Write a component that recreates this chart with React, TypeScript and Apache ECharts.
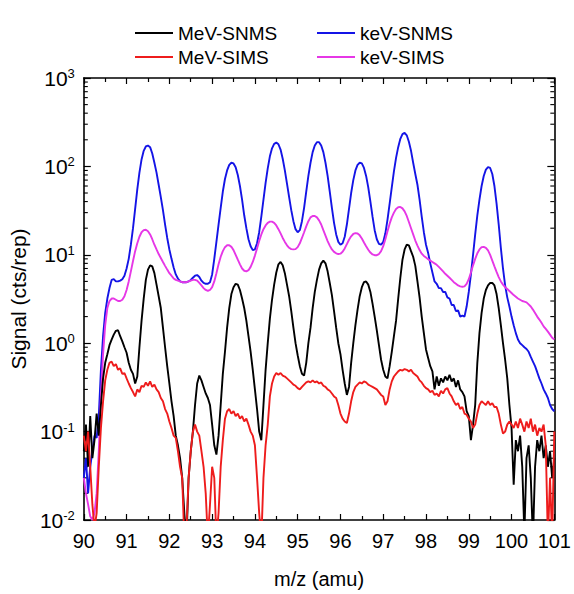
import React, { useEffect, useRef } from "react";
import * as echarts from "echarts";

// m/z sampling grid: 90.00 .. 101.00 every 0.05 amu (one row per amu below)
const MZ_START = 90;
const MZ_STEP = 0.05;

const keVSNMS = [
  0.03, 0.05, 0.02, 0.04, 0.06, 0.09, 0.085, 0.15, 0.5, 1.2, 2.2, 3.2, 4.2, 5.2, 5.3, 5.0, 5.0, 5.1, 5.3, 5.8,
  7, 9, 13, 20, 33, 55, 85, 120, 150, 168, 172, 165, 140, 110, 85, 62, 45, 32, 22, 15.5,
  11.5, 9, 7.2, 6, 5.4, 5.0, 4.9, 4.9, 4.9, 5.0, 5.2, 5.5, 5.8, 5.9, 5.6, 5.1, 4.8, 4.7, 4.7, 4.9,
  6, 9, 14, 22, 34, 52, 72, 90, 104, 110, 108, 98, 80, 60, 42, 28, 20, 15, 12.5, 11.3,
  11.5, 13.5, 18, 27, 42, 65, 95, 130, 160, 180, 186, 178, 155, 122, 90, 64, 45, 32, 24, 19.5,
  18, 19, 24, 34, 52, 78, 110, 145, 172, 188, 188, 172, 145, 110, 78, 52, 34, 23, 17, 14,
  13, 13.5, 16, 22, 33, 50, 70, 90, 104, 110, 108, 96, 78, 58, 40, 27, 19, 15, 13.3, 13,
  14, 17.5, 25, 38, 58, 88, 125, 165, 205, 232, 240, 225, 190, 150, 110, 82, 62, 42, 27, 18,
  13, 10.5, 8, 6.3, 5.0, 4.7, 4.2, 4.2, 3.8, 3.8, 3.3, 3.2, 2.7, 2.7, 2.3, 2.35, 2.0, 2.05, 2.0, 2.6,
  3.8, 6, 10, 17, 28, 42, 60, 78, 92, 98, 96, 82, 60, 38, 22, 12, 7, 4.5, 3.3, 2.6,
  2.0, 1.6, 1.3, 1.1, 1.0, 0.95, 0.9, 0.86, 0.8, 0.7, 0.62, 0.55, 0.47, 0.4, 0.35, 0.3, 0.27, 0.24, 0.2, 0.18,
  0.17,
];

const keVSIMS = [
  0.03, 0.02, 0.015, 0.011, 0.01, 0.012, 0.02, 0.06, 0.25, 0.75, 1.6, 2.5, 3.0, 3.2, 3.2, 3.1, 3.0, 3.0, 3.1, 3.4,
  4.0, 5.0, 6.5, 8.5, 11, 13.5, 16, 18, 19, 19.2, 18.5, 17, 15, 13, 11.5, 10.2, 9.2, 8.3, 7.5, 6.8,
  6.2, 5.8, 5.4, 5.2, 5.1, 5.0, 4.9, 4.9, 4.9, 5.0, 5.1, 5.2, 5.2, 5.1, 4.8, 4.5, 4.2, 4.0, 3.9, 4.0,
  4.3, 5.0, 6.2, 7.8, 9.5, 11, 12.2, 12.8, 12.8, 12.3, 11.3, 10, 8.8, 7.8, 7.0, 6.6, 6.5, 6.7, 7.3, 8.3,
  9.8, 11.8, 14.3, 17, 19.5, 21.5, 23, 23.7, 23.7, 23, 21.5, 19.5, 17.5, 15.5, 14, 12.8, 12, 11.6, 11.5, 11.6,
  12.2, 13.5, 15.5, 18, 21, 24, 26.5, 27.5, 27.5, 26.5, 24.5, 22, 19, 16.5, 14.3, 12.7, 11.5, 10.8, 10.4, 10.2,
  10.3, 10.8, 11.8, 13.2, 14.8, 16.2, 17.2, 17.6, 17.4, 16.6, 15.3, 13.8, 12.5, 11.4, 10.6, 10.1, 9.9, 9.9, 10.2, 11,
  12.5, 15, 18.5, 22.5, 26.5, 30, 33, 34.5, 34.8, 33.5, 31, 27.5, 23.5, 20, 17, 14.5, 12.7, 11.3, 10.3, 9.7,
  9.3, 8.9, 8.6, 8.3, 8.0, 7.7, 7.3, 6.9, 6.5, 6.1, 5.8, 5.5, 5.2, 4.9, 4.7, 4.5, 4.4, 4.35, 4.4, 4.7,
  5.3, 6.3, 7.6, 9.0, 10.4, 11.5, 12.2, 12.3, 12.0, 11.2, 10.0, 8.6, 7.4, 6.4, 5.6, 5.0, 4.6, 4.3, 4.1, 3.9,
  3.7, 3.5, 3.35, 3.2, 3.1, 3.0, 2.95, 2.9, 2.75, 2.6, 2.4, 2.2, 2.0, 1.85, 1.7, 1.55, 1.45, 1.35, 1.25, 1.15,
  1.1,
];

const MeVSNMS = [
  0.06, 0.12, 0.04, 0.15, 0.05, 0.08, 0.16, 0.09, 0.2, 0.4, 0.6, 0.75, 0.95, 1.1, 1.25, 1.38, 1.4, 1.2, 1.05, 0.9,
  0.78, 0.6, 0.5, 0.45, 0.35, 0.42, 0.9, 1.8, 3.2, 5.2, 6.8, 7.6, 7.4, 6.2, 4.6, 3.4, 2.5, 1.5, 0.9, 0.55,
  0.35, 0.22, 0.15, 0.09, 0.07, 0.05, 0.03, 0.012, 0.006, 0.03, 0.06, 0.1, 0.2, 0.35, 0.43, 0.38, 0.32, 0.27, 0.24, 0.2,
  0.12, 0.07, 0.055, 0.09, 0.2, 0.45, 0.8, 1.5, 2.5, 3.6, 4.3, 4.7, 4.6, 4.0, 3.2, 2.5, 1.8, 1.2, 0.8, 0.5,
  0.3, 0.18, 0.1, 0.08, 0.2, 0.5, 1.0, 1.9, 3.1, 4.6, 6.3, 7.8, 8.3, 7.6, 6.2, 4.6, 3.4, 2.3, 1.5, 1.0,
  0.73, 0.55, 0.45, 0.43, 0.6, 1.0, 1.5, 2.5, 3.8, 5.2, 6.8, 8.0, 8.6, 8.0, 6.5, 4.8, 3.5, 2.3, 1.5, 1.0,
  0.75, 0.5, 0.35, 0.26, 0.32, 0.6, 1.0, 1.6, 2.4, 3.4, 4.3, 4.9, 5.0, 4.6, 3.8, 2.8, 2.0, 1.4, 0.95, 0.65,
  0.5, 0.42, 0.4, 0.55, 0.8, 1.2, 1.8, 3.2, 5.5, 8.8, 11.5, 13, 12.8, 11, 9.5, 7.5, 5.0, 3.3, 2.0, 1.3,
  0.85, 0.68, 0.55, 0.48, 0.3, 0.42, 0.33, 0.4, 0.36, 0.42, 0.38, 0.44, 0.37, 0.4, 0.32, 0.38, 0.3, 0.28, 0.25, 0.17,
  0.15, 0.08, 0.12, 0.2, 0.6, 1.3, 2.2, 3.2, 4.0, 4.5, 4.8, 4.8, 4.5, 3.6, 2.5, 1.6, 1.0, 0.65, 0.4, 0.2,
  0.11, 0.025, 0.08, 0.06, 0.09, 0.04, 0.007, 0.05, 0.07, 0.03, 0.006, 0.04, 0.08, 0.06, 0.09, 0.05, 0.07, 0.04, 0.06, 0.03,
  0.05,
];

const MeVSIMS = [
  0.09, 0.06, 0.1, 0.04, 0.015, 0.008, 0.012, 0.04, 0.11, 0.22, 0.38, 0.5, 0.6, 0.62, 0.55, 0.58, 0.5, 0.52, 0.45, 0.46,
  0.4, 0.35, 0.31, 0.28, 0.25, 0.3, 0.28, 0.33, 0.32, 0.36, 0.33, 0.37, 0.32, 0.34, 0.3, 0.28, 0.24, 0.22, 0.18, 0.16,
  0.13, 0.11, 0.09, 0.085, 0.06, 0.04, 0.03, 0.006, 0.008, 0.03, 0.06, 0.1, 0.12, 0.1, 0.09, 0.06, 0.04, 0.02, 0.006, 0.015,
  0.04, 0.03, 0.006, 0.012, 0.04, 0.08, 0.14, 0.17, 0.18, 0.16, 0.17, 0.15, 0.16, 0.14, 0.15, 0.13, 0.14, 0.12, 0.1, 0.09,
  0.07, 0.03, 0.012, 0.006, 0.03, 0.07, 0.12, 0.25, 0.35, 0.42, 0.46, 0.44, 0.46, 0.43, 0.42, 0.4, 0.38, 0.36, 0.34, 0.33,
  0.31, 0.3, 0.32, 0.34, 0.36, 0.37, 0.36, 0.38, 0.36, 0.37, 0.35, 0.36, 0.33, 0.32, 0.3, 0.29, 0.27, 0.25, 0.24, 0.2,
  0.16, 0.14, 0.13, 0.125, 0.16, 0.22, 0.28, 0.32, 0.34, 0.36, 0.35, 0.37, 0.36, 0.34, 0.33, 0.32, 0.31, 0.3, 0.28, 0.26,
  0.25, 0.2, 0.22, 0.3, 0.37, 0.42, 0.45, 0.48, 0.5, 0.49, 0.51, 0.5, 0.48, 0.5, 0.46, 0.44, 0.42, 0.38, 0.36, 0.33,
  0.31, 0.3, 0.28, 0.29, 0.26, 0.27, 0.25, 0.29, 0.27, 0.3, 0.31, 0.27, 0.25, 0.22, 0.2, 0.21, 0.18, 0.19, 0.16, 0.155,
  0.14, 0.13, 0.11, 0.12, 0.16, 0.2, 0.22, 0.21, 0.2, 0.22, 0.2, 0.21, 0.19, 0.19, 0.16, 0.12, 0.095, 0.1, 0.12, 0.13,
  0.12, 0.11, 0.13, 0.11, 0.14, 0.12, 0.1, 0.13, 0.11, 0.14, 0.1, 0.12, 0.09, 0.11, 0.1, 0.12, 0.07, 0.006, 0.03, 0.006,
  0.1,
];

const X_MIN = 90;
const X_MAX = 101;
const Y_MIN = 0.01;
const Y_MAX = 1000;

const COLORS: Record<string, string> = {
  "MeV-SNMS": "#000000",
  "keV-SNMS": "#1414e6",
  "MeV-SIMS": "#ee1c1c",
  "keV-SIMS": "#e637e6",
};

const FONT = "'Liberation Sans Narrow', 'Arial Narrow', 'Liberation Sans', Arial, sans-serif";

const toPairs = (vals: number[]) =>
  vals.map((v, i) => [+(MZ_START + i * MZ_STEP).toFixed(2), v]);

// log-axis minor tick positions (2..9 in every decade)
const minorLogTicks: number[][] = [];
for (let d = -2; d < 3; d++) {
  for (let k = 2; k <= 9; k++) minorLogTicks.push([X_MIN, k * Math.pow(10, d)]);
}

export default function App() {
  const ref = useRef<HTMLDivElement>(null);

  useEffect(() => {
    document.body.style.margin = "0";
    document.body.style.overflow = "hidden";
    const chart = echarts.init(ref.current!, undefined, { renderer: "svg" });

    const lineSeries = (name: string, vals: number[]) => ({
      name,
      type: "line",
      data: toPairs(vals),
      showSymbol: false,
      symbol: "none",
      clip: true,
      lineStyle: { color: COLORS[name], width: 1.9 },
      itemStyle: { color: COLORS[name] },
      emphasis: { disabled: true },
    });

    const tickStyle = { lineStyle: { color: "#000", width: 1.2 } };

    const xAxisBase = {
      type: "value",
      min: X_MIN,
      max: X_MAX,
      interval: 1,
      axisLine: { show: true, onZero: false, lineStyle: { color: "#000", width: 1.6 } },
      axisTick: { show: true, inside: true, length: 6, ...tickStyle },
      minorTick: { show: true, splitNumber: 2, length: 4, ...tickStyle },
      splitLine: { show: false },
      minorSplitLine: { show: false },
    };

    const yAxisBase = {
      type: "log",
      logBase: 10,
      min: Y_MIN,
      max: Y_MAX,
      axisLine: { show: true, onZero: false, lineStyle: { color: "#000", width: 1.6 } },
      axisTick: { show: true, inside: true, length: 7, ...tickStyle },
      splitLine: { show: false },
    };

    const legendText = { fontFamily: FONT, fontSize: 19, color: "#000", lineHeight: 20 };

    chart.setOption({
      animation: false,
      backgroundColor: "#ffffff",
      textStyle: { fontFamily: FONT },
      grid: { left: 80, right: 15, top: 78, bottom: 71, containLabel: false },
      legend: [
        {
          data: ["MeV-SNMS", "MeV-SIMS"],
          orient: "vertical",
          left: 135,
          top: 23,
          padding: 0,
          itemGap: 4,
          itemWidth: 38,
          itemHeight: 2,
          icon: "rect",
          selectedMode: false,
          textStyle: legendText,
        },
        {
          data: ["keV-SNMS", "keV-SIMS"],
          orient: "vertical",
          left: 317,
          top: 23,
          padding: 0,
          itemGap: 4,
          itemWidth: 38,
          itemHeight: 2,
          icon: "rect",
          selectedMode: false,
          textStyle: legendText,
        },
      ],
      xAxis: [
        {
          ...xAxisBase,
          position: "bottom",
          name: "m/z (amu)",
          nameLocation: "middle",
          nameGap: 49,
          nameTextStyle: { fontFamily: FONT, fontSize: 20, color: "#000" },
          axisLabel: { show: true, margin: 11, fontFamily: FONT, fontSize: 20, color: "#000" },
        },
        {
          ...xAxisBase,
          position: "top",
          axisLabel: { show: false },
        },
      ],
      yAxis: [
        {
          ...yAxisBase,
          position: "left",
          name: "Signal (cts/rep)",
          nameLocation: "middle",
          nameGap: 46,
          nameRotate: 90,
          nameTextStyle: { fontFamily: FONT, fontSize: 21, color: "#000" },
          axisLabel: {
            show: true,
            margin: 9,
            formatter: (v: number) => `{b|10}{s|${Math.round(Math.log10(v))}}`,
            rich: {
              b: { fontFamily: FONT, fontSize: 21, color: "#000", lineHeight: 22 },
              s: { fontFamily: FONT, fontSize: 13, color: "#000", verticalAlign: "top", lineHeight: 13 },
            },
          },
        },
        {
          ...yAxisBase,
          position: "right",
          axisLabel: { show: false },
        },
      ],
      series: [
        lineSeries("keV-SNMS", keVSNMS),
        lineSeries("keV-SIMS", keVSIMS),
        lineSeries("MeV-SNMS", MeVSNMS),
        lineSeries("MeV-SIMS", MeVSIMS),
        {
          type: "custom",
          name: "minor-log-ticks",
          silent: true,
          data: minorLogTicks,
          renderItem: (params: any, api: any) => {
            const v = api.value(1);
            const pl = api.coord([X_MIN, v]);
            const pr = api.coord([X_MAX, v]);
            const s = { stroke: "#000", lineWidth: 1.1 };
            return {
              type: "group",
              children: [
                { type: "line", shape: { x1: pl[0], y1: pl[1], x2: pl[0] + 4, y2: pl[1] }, style: s },
                { type: "line", shape: { x1: pr[0] - 4, y1: pr[1], x2: pr[0], y2: pr[1] }, style: s },
              ],
            };
          },
        },
      ],
    });

    return () => chart.dispose();
  }, []);

  return <div ref={ref} style={{ width: 574, height: 594 }} />;
}
